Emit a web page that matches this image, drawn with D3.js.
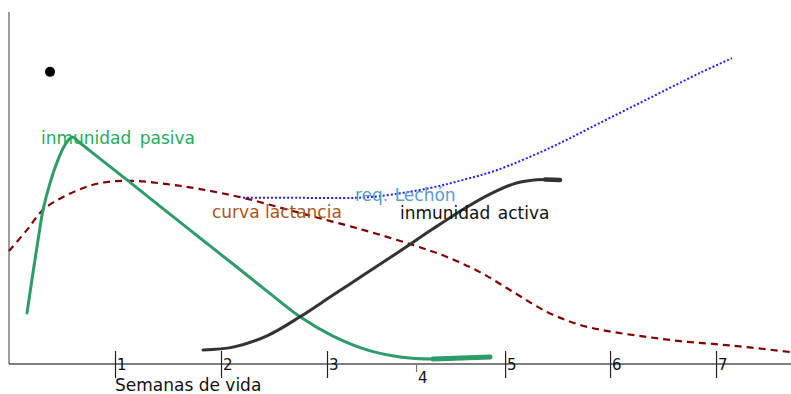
<!DOCTYPE html>
<html>
<head>
<meta charset="utf-8">
<script src="https://cdn.jsdelivr.net/npm/d3@7"></script>
<style>
  html, body { margin: 0; padding: 0; background: #fff; }
  svg { display: block; font-family: "DejaVu Sans", Verdana, sans-serif; }
</style>
</head>
<body>
<svg id="chart" width="791" height="394"></svg>
<script>
// Semanas de vida (x) and relative level (y, 0–100)
const tickWeeks  = [1, 2, 3, 3.84, 4.68, 5.67, 6.67];
const tickLabels = ["1", "2", "3", "4", "5", "6", "7"];
const loweredTick = "4";

// Inmunidad pasiva (calostral)
const pasivaWeek  = [0.17, 0.226, 0.274, 0.321, 0.387, 0.462, 0.528, 0.594, 0.670, 0.830, 1.113, 1.491, 1.802, 2.113, 2.434, 2.745, 3.057, 3.377, 3.689, 4.0, 4.538];
const pasivaLevel = [14.5, 25.9, 35.2, 43.8, 51.4, 58.0, 62.2, 64.5, 62.8, 59.0, 52.3, 43.2, 35.8, 28.4, 20.7, 13.4, 7.9, 4.0, 2.0, 1.4, 2.0];

// Inmunidad activa
const activaWeek  = [1.830, 2.113, 2.434, 2.745, 3.057, 3.377, 3.689, 4.0, 4.321, 4.547, 4.755, 4.915, 5.057, 5.198];
const activaLevel = [4.0, 4.8, 8.0, 13.4, 19.6, 25.9, 32.1, 38.4, 44.6, 48.4, 51.1, 52.1, 52.4, 52.3];

// Curva de lactancia
const lactWeek  = [0, 0.170, 0.321, 0.547, 0.858, 1.170, 1.491, 1.802, 2.208, 2.745, 3.340, 3.811, 4.132, 4.443, 4.755, 5.075, 5.387, 5.698, 6.019, 6.330, 6.642, 6.962, 7.368];
const lactLevel = [32.1, 38.1, 43.8, 48.0, 51.4, 52.0, 51.1, 49.7, 47.2, 42.9, 38.1, 33.8, 30.4, 26.1, 20.5, 14.8, 11.1, 9.1, 7.7, 6.5, 5.7, 4.8, 3.4];

// Requerimiento del lechón
const reqWeek  = [2.208, 2.745, 3.264, 3.5, 3.972, 4.283, 4.604, 5.104, 5.575, 6.047, 6.519, 6.821];
const reqLevel = [47.2, 47.2, 47.2, 47.7, 50.0, 52.3, 55.1, 61.4, 68.5, 75.6, 82.7, 86.9];

// Single marker point
const markWeek = [0.387];
const markLevel = [83.0];

const svg = d3.select("#chart");
const x = d3.scaleLinear().domain([0, 7.38]).range([9, 791.3]);
const y = d3.scaleLinear().domain([0, 100]).range([364, 12]);

const zip = (ws, vs) => ws.map((w, i) => [w, vs[i]]);
const line = d3.line()
  .x(d => x(d[0])).y(d => y(d[1]))
  .curve(d3.curveCatmullRom.alpha(0.5));

// Axes
svg.append("line")
  .attr("x1", x(0)).attr("x2", x(0))
  .attr("y1", y(100)).attr("y2", y(0))
  .attr("stroke", "#6a6a6a").attr("stroke-width", 1.3);

svg.append("line")
  .attr("x1", x(0)).attr("x2", 791)
  .attr("y1", y(0)).attr("y2", y(0))
  .attr("stroke", "#000").attr("stroke-width", 1.2);

const axis = d3.axisBottom(x)
  .tickValues(tickWeeks)
  .tickFormat((d, i) => tickLabels[i])
  .tickSize(14);

const gx = svg.append("g")
  .attr("transform", `translate(0,${y(0)})`)
  .call(axis);
gx.select(".domain").remove();
gx.selectAll(".tick").each(function(d, i) {
  const g = d3.select(this);
  const low = tickLabels[i] === loweredTick;
  g.select("line")
    .attr("y1", low ? 0 : -13)
    .attr("y2", low ? 8 : 14)
    .attr("stroke", low ? "#777" : "#222")
    .attr("stroke-width", 1.2);
  g.select("text")
    .attr("x", 1.5)
    .attr("y", low ? 19 : 6)
    .attr("dy", null)
    .attr("text-anchor", "start")
    .attr("fill", "#111")
    .style("font-size", "15px")
    .style("font-family", "DejaVu Sans, sans-serif");
});

svg.append("text")
  .attr("x", x(1)).attr("y", 391)
  .attr("fill", "#111")
  .style("font-size", "17px")
  .text("Semanas de vida");

// Curves
const lact = zip(lactWeek, lactLevel);
svg.append("path").datum(lact)
  .attr("d", line).attr("fill", "none")
  .attr("stroke", "#800000").attr("stroke-width", 2.2)
  .attr("stroke-dasharray", "7,5");

const req = zip(reqWeek, reqLevel);
svg.append("path").datum(req)
  .attr("d", line).attr("fill", "none")
  .attr("stroke", "#1f1fff").attr("stroke-width", 2)
  .attr("stroke-dasharray", "2,2");

const pasiva = zip(pasivaWeek, pasivaLevel);
svg.append("path").datum(pasiva)
  .attr("d", line).attr("fill", "none")
  .attr("stroke", "#2e9c68").attr("stroke-width", 3)
  .attr("stroke-linecap", "round");
svg.append("path").datum(pasiva.slice(-2))
  .attr("d", line).attr("fill", "none")
  .attr("stroke", "#2e9c68").attr("stroke-width", 5)
  .attr("stroke-linecap", "round");

const activa = zip(activaWeek, activaLevel);
svg.append("path").datum(activa)
  .attr("d", line).attr("fill", "none")
  .attr("stroke", "#333").attr("stroke-width", 3)
  .attr("stroke-linecap", "round");
svg.append("path").datum(activa.slice(-2))
  .attr("d", line).attr("fill", "none")
  .attr("stroke", "#333").attr("stroke-width", 4.5)
  .attr("stroke-linecap", "round");

svg.selectAll("circle.mark")
  .data(zip(markWeek, markLevel))
  .join("circle").attr("class", "mark")
  .attr("cx", d => x(d[0])).attr("cy", d => y(d[1]))
  .attr("r", 5).attr("fill", "#000");

// Curve labels
const labels = [
  { text: "inmunidad pasiva", x: 41,  y: 144, color: "#22ad5c", ws: 3 },
  { text: "curva lactancia",  x: 212, y: 218, color: "#a8561d", ws: 0 },
  { text: "req. Lechón",      x: 355, y: 201, color: "#5b9ad8", ws: 1 },
  { text: "inmunidad activa", x: 400, y: 219, color: "#111",    ws: 2 }
];
svg.selectAll("text.lbl")
  .data(labels)
  .join("text").attr("class", "lbl")
  .attr("x", d => d.x).attr("y", d => d.y)
  .attr("fill", d => d.color)
  .style("font-size", "17px")
  .style("word-spacing", d => d.ws + "px")
  .text(d => d.text);
</script>
</body>
</html>
